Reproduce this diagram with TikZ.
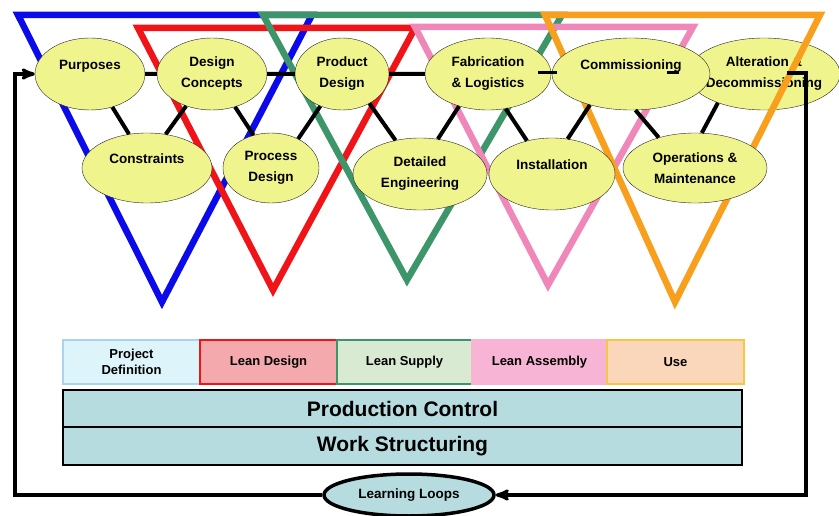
\documentclass[tikz,border=0pt]{standalone}
\usepackage{fontspec}
\setmainfont{Liberation Sans}
\usetikzlibrary{arrows,positioning,shapes.geometric}

\definecolor{vblue}{RGB}{10,10,235}
\definecolor{vred}{RGB}{240,20,25}
\definecolor{vgreen}{RGB}{60,150,105}
\definecolor{vpink}{RGB}{240,135,185}
\definecolor{vorange}{RGB}{248,160,30}
\definecolor{stagefill}{RGB}{240,244,140}
\definecolor{basefill}{RGB}{182,220,224}
\definecolor{pdfill}{RGB}{222,244,251}
\definecolor{pdline}{RGB}{170,212,238}
\definecolor{ldfill}{RGB}{244,170,172}
\definecolor{lsfill}{RGB}{216,234,210}
\definecolor{lafill}{RGB}{248,180,212}
\definecolor{usefill}{RGB}{250,214,186}
\definecolor{useline}{RGB}{246,200,66}

\pgfdeclarelayer{back}
\pgfdeclarelayer{vees}
\pgfsetlayers{back,vees,main}

\begin{document}
\begin{tikzpicture}[x=1pt,y=-1pt,>=stealth',node distance=0pt,
		stage/.style={ellipse,draw=black!85,thin,fill=stagefill,inner sep=-10pt,align=center,font=\bfseries\fontsize{13.5}{21}\selectfont},
		oneline/.style={text depth=18pt},
		vee/.style={line width=6.5pt,line join=miter},
		link/.style={draw=black,line width=4pt},
		phase/.style={rectangle,draw,line width=2.5pt,minimum width=135pt,minimum height=44pt,outer sep=0pt,align=center,font=\bfseries\fontsize{13}{16}\selectfont},
		band/.style={rectangle,draw=black,line width=2.5pt,fill=basefill,minimum width=679pt,minimum height=37pt,outer sep=0pt,font=\bfseries\fontsize{21}{25}\selectfont},
		loopline/.style={draw=black,line width=3.2pt}]
	\useasboundingbox (0,0) rectangle (839,516);

	% the stage that sits under the orange vee
	\begin{pgfonlayer}{back}
		\node	[stage,minimum width=152pt,minimum height=72pt]	(alt)	at (764,74)	{Alteration \&\\Decommissioning};
	\end{pgfonlayer}

	% the five vees
	\begin{pgfonlayer}{vees}
		\draw	[vee,vblue]		(18,15) -- (312,15) -- (162,302) -- cycle;
		\draw	[vee,vred]		(138,28) -- (415,28) -- (273,290) -- cycle;
		\draw	[vee,vgreen]	(263,15) -- (562,15) -- (407,280) -- cycle;
		\draw	[vee,vpink]		(415,27) -- (693,27) -- (548,285) -- cycle;
		\draw	[vee,vorange]	(545,15) -- (820,15) -- (675,302) -- cycle;
	\end{pgfonlayer}

	% top row
	\node	[stage,oneline,minimum width=110pt,minimum height=72pt]	(purp)	at (90,74)	{Purposes};
	\node	[stage,minimum width=110pt,minimum height=72pt]			(dcon)	at (212,74)	{Design\\Concepts};
	\node	[stage,minimum width=94pt,minimum height=72pt]			(pdes)	at (342,74)	{Product\\Design};
	\node	[stage,minimum width=126pt,minimum height=72pt]			(fab)	at (488,74)	{Fabrication\\\& Logistics};
	\node	[stage,oneline,minimum width=158pt,minimum height=72pt]	(comm)	at (631,74)	{Commissioning};

	% bottom row
	\node	[stage,oneline,minimum width=130pt,minimum height=70pt]	(cons)	at (147,168)	{Constraints};
	\node	[stage,minimum width=96pt,minimum height=70pt]			(proc)	at (271,168)	{Process\\Design};
	\node	[stage,minimum width=134pt,minimum height=72pt]			(deng)	at (420,174)	{Detailed\\Engineering};
	\node	[stage,oneline,minimum width=126pt,minimum height=72pt]	(inst)	at (552,174)	{Installation};
	\node	[stage,minimum width=144pt,minimum height=70pt]			(ops)	at (695,168)	{Operations \&\\Maintenance};

	\draw	[link]
		(purp.east)	--	(dcon.west)
		(dcon.east)	--	(pdes.west)
		(pdes.east)	--	(fab.east -| fab.west)
		(purp.304)	--	(cons.118)
		(dcon.231)	--	(cons.61)
		(dcon.305)	--	(proc.118)
		(proc.47)	--	(pdes.236)
		(pdes.313)	--	(deng.126)
		(deng.63)	--	(fab.228)
		(fab.297)	--	(inst.127)
		(inst.66)	--	(comm.217)
		(comm.277)	--	(ops.140)
		(ops.79)	--	(alt.212)
	;
	\draw	[link,line width=3pt]	(fab.east) ++(-13,-1) -- ++(19,0);
	\draw	[link,line width=3pt]	(comm.center) ++(36,-1) -- ++(12,0);

	% phases and bands
	\node	[phase,draw=pdline,line width=1.2pt,fill=pdfill,minimum width=137pt]	(pdef)	at (131.5,362)	{Project\\Definition};
	\node	[phase,draw=vred,fill=ldfill,minimum width=137pt]	(lds)	[right=of pdef]	{Lean Design};
	\node	[phase,draw=vgreen,fill=lsfill]						(lsu)	[right=of lds]	{Lean Supply};
	\node	[phase,draw=lafill,fill=lafill]						(las)	[right=of lsu]	{Lean Assembly};
	\node	[phase,draw=useline,fill=usefill,minimum width=137pt]	(use)	[right=of las]	{Use};
	\node	[band]	(pctl)	at (402.5,408.5)		{Production Control};
	\node	[band,minimum height=38pt]	(wstr)	[below=of pctl]	{Work Structuring};

	% learning loops
	\node	[ellipse,draw=black,line width=3.5pt,fill=basefill,minimum width=170pt,minimum height=42pt,font=\bfseries\fontsize{13.5}{16}\selectfont]	(ll)	at (409,495)	{Learning Loops};
	\coordinate	(altend)	at (806,73);
	\coordinate	(lcorner)	at (15,74);
	\draw	[loopline,->]	(alt.center) ++(23,-1) -- (altend) |- (ll.east);
	\draw	[loopline,->]	(ll.west) -| (lcorner) -- (purp.west);
\end{tikzpicture}
\end{document}
